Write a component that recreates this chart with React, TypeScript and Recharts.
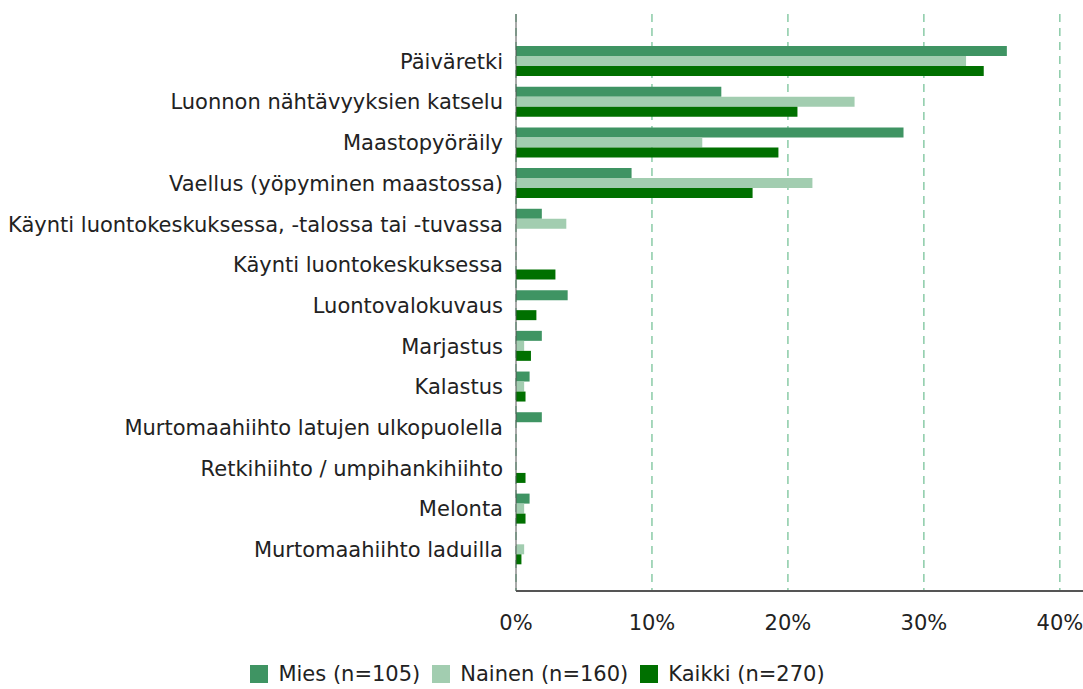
import { BarChart, Bar, XAxis, YAxis, CartesianGrid } from 'recharts'

const categories = [
  'Päiväretki',
  'Luonnon nähtävyyksien katselu',
  'Maastopyöräily',
  'Vaellus (yöpyminen maastossa)',
  'Käynti luontokeskuksessa, -talossa tai -tuvassa',
  'Käynti luontokeskuksessa',
  'Luontovalokuvaus',
  'Marjastus',
  'Kalastus',
  'Murtomaahiihto latujen ulkopuolella',
  'Retkihiihto / umpihankihiihto',
  'Melonta',
  'Murtomaahiihto laduilla',
]

const mies = [36.1, 15.1, 28.5, 8.5, 1.9, 0, 3.8, 1.9, 1.0, 1.9, 0, 1.0, 0]
const nainen = [33.1, 24.9, 13.7, 21.8, 3.7, 0, 0, 0.6, 0.6, 0, 0, 0.6, 0.6]
const kaikki = [34.4, 20.7, 19.3, 17.4, 0, 2.9, 1.5, 1.1, 0.7, 0, 0.7, 0.7, 0.4]

const xTicks = [0, 10, 20, 30, 40]

const series = [
  { key: 'mies', name: 'Mies (n=105)', color: '#3f9463' },
  { key: 'nainen', name: 'Nainen (n=160)', color: '#a2cdb0' },
  { key: 'kaikki', name: 'Kaikki (n=270)', color: '#007000' },
]

const data = categories.map((c, i) => ({
  label: c,
  mies: mies[i],
  nainen: nainen[i],
  kaikki: kaikki[i],
}))

const font = 'DejaVu Sans'

function LegendBox() {
  return (
    <div
      style={{
        position: 'absolute',
        top: 662,
        left: 0,
        width: 1083,
        display: 'flex',
        justifyContent: 'center',
        gap: 12,
        fontFamily: font,
        fontSize: 21,
        color: '#222',
        paddingRight: 8,
        boxSizing: 'border-box',
      }}
    >
      {series.map((s) => (
        <div key={s.key} style={{ display: 'flex', alignItems: 'center', gap: 10 }}>
          <span style={{ width: 18, height: 18, background: s.color, display: 'inline-block' }} />
          <span>{s.name}</span>
        </div>
      ))}
    </div>
  )
}

export default function App() {
  return (
    <div style={{ position: 'absolute', left: 0, top: 0, width: 1083, height: 689 }}>
      <BarChart
        width={1083}
        height={689}
        data={data}
        layout="vertical"
        margin={{ top: 14, right: 0, bottom: 58, left: 0 }}
        barCategoryGap={5}
        barGap={0}
      >
        <CartesianGrid horizontal={false} verticalValues={xTicks} stroke="#4fb07a" strokeDasharray="8 6" />
        <XAxis
          type="number"
          domain={[0, 41.7]}
          ticks={xTicks}
          tickFormatter={(v: number) => `${v}%`}
          axisLine={{ stroke: '#555', strokeWidth: 2 }}
          tickLine={false}
          tick={{ fontFamily: font, fontSize: 21, fill: '#222' }}
          tickMargin={18}
          height={40}
        />
        <YAxis
          type="category"
          dataKey="label"
          width={516}
          padding={{ top: 27, bottom: 21 }}
          axisLine={{ stroke: '#555' }}
          tickLine={false}
          tickMargin={7}
          interval={0}
          tick={{ fontFamily: font, fontSize: 21, fill: '#222' }}
        />
        {series.map((s) => (
          <Bar key={s.key} dataKey={s.key} name={s.name} fill={s.color} isAnimationActive={false} />
        ))}
      </BarChart>
      <LegendBox />
    </div>
  )
}
